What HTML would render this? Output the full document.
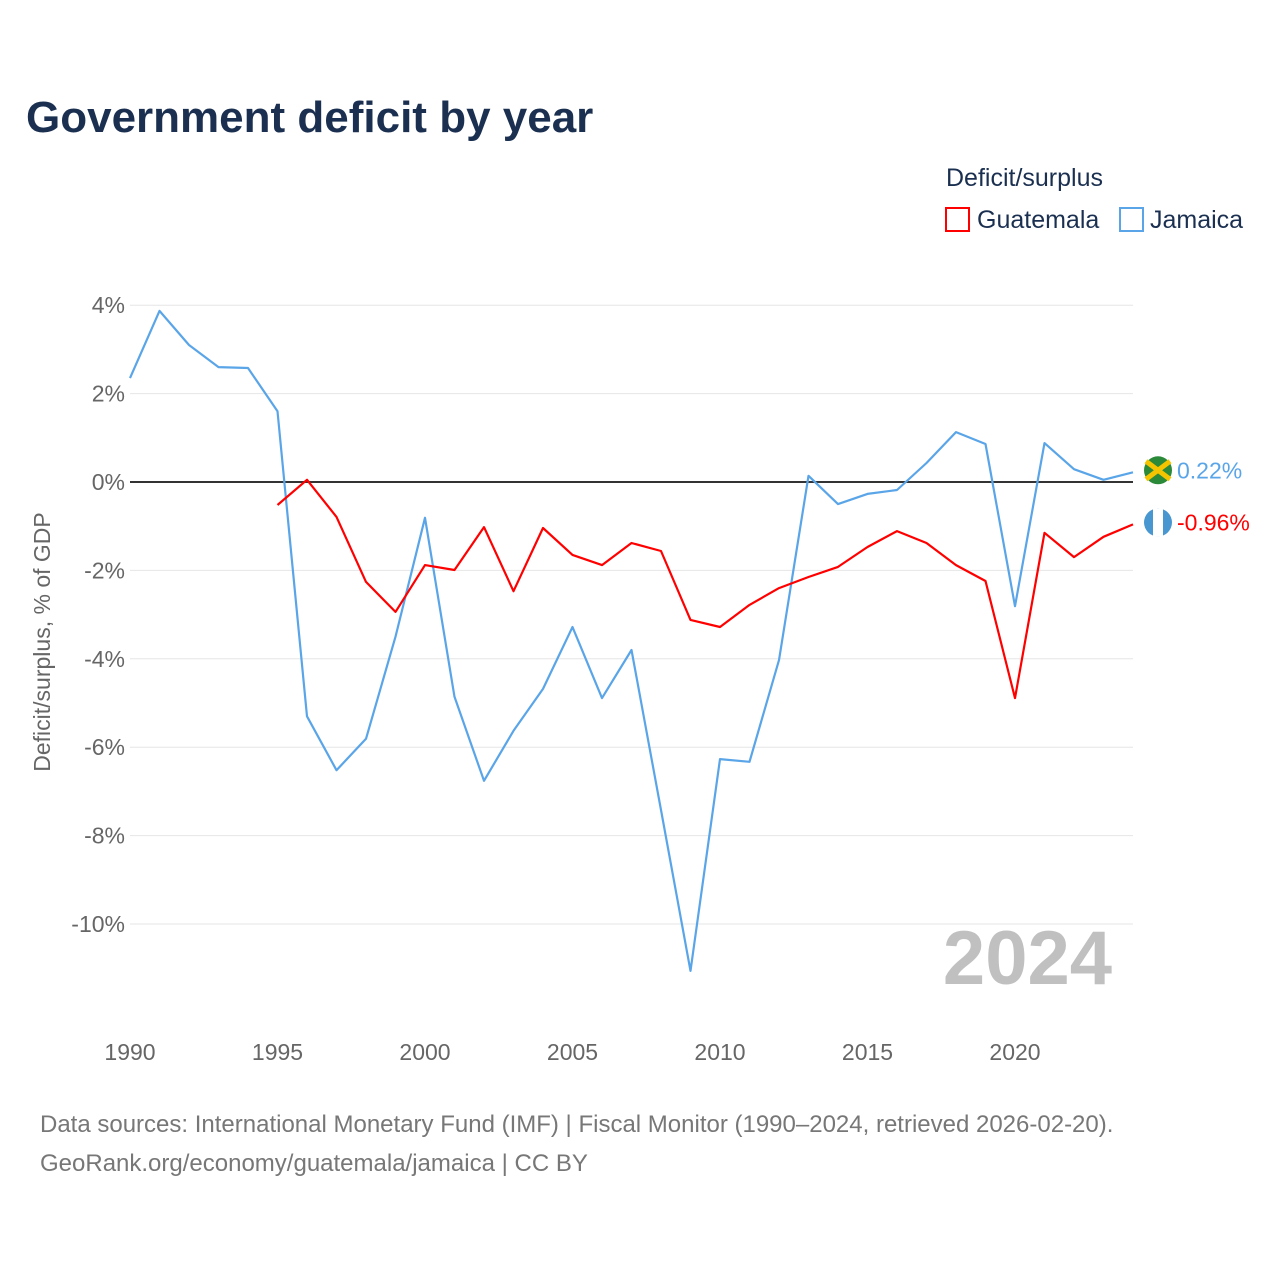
<!DOCTYPE html>
<html><head><meta charset="utf-8"><style>
body{margin:0;background:#fff;font-family:"Liberation Sans",sans-serif;}
</style></head><body>
<svg width="1280" height="1280" xmlns="http://www.w3.org/2000/svg" font-family="Liberation Sans, sans-serif">
<text x="26" y="132" font-size="44" font-weight="bold" fill="#1b3050">Government deficit by year</text>
<text x="946" y="186" font-size="25" fill="#1b3050">Deficit/surplus</text>
<g><rect x="946" y="208" width="23" height="23" fill="none" stroke="#ff0000" stroke-width="2"/><text x="977" y="228" font-size="25" fill="#1b3050">Guatemala</text></g>
<g><rect x="1120" y="208" width="23" height="23" fill="none" stroke="#5aa5e8" stroke-width="2"/><text x="1150" y="228" font-size="25" fill="#1b3050">Jamaica</text></g>
<g id="grid"></g>
<g id="yticks"></g>
<g id="xticks"></g>
<text transform="translate(50,642) rotate(-90)" text-anchor="middle" font-size="23" fill="#666">Deficit/surplus, % of GDP</text>
<text x="1112" y="984" text-anchor="end" font-size="76" font-weight="bold" fill="#c0c0c0">2024</text>
<g id="series"></g>
<text x="40" y="1132" font-size="24" fill="#777">Data sources: International Monetary Fund (IMF) | Fiscal Monitor (1990–2024, retrieved 2026-02-20).</text>
<text x="40" y="1171" font-size="24" fill="#777">GeoRank.org/economy/guatemala/jamaica | CC BY</text>
</svg>
<script>
const years=[];for(let y=1990;y<=2024;y++)years.push(y);
const jamaica=[2.35,3.87,3.1,2.6,2.58,1.6,-5.3,-6.52,-5.81,-3.5,-0.81,-4.86,-6.76,-5.63,-4.68,-3.28,-4.89,-3.8,-7.42,-11.06,-6.27,-6.33,-4.03,0.14,-0.5,-0.27,-0.18,0.43,1.13,0.86,-2.81,0.88,0.29,0.05,0.22];
const guatemala=[null,null,null,null,null,-0.52,0.05,-0.79,-2.26,-2.94,-1.88,-1.99,-1.02,-2.47,-1.04,-1.65,-1.88,-1.38,-1.56,-3.12,-3.28,-2.78,-2.4,-2.15,-1.92,-1.47,-1.11,-1.38,-1.88,-2.24,-4.89,-1.15,-1.7,-1.24,-0.96];
const yTicks=[4,2,0,-2,-4,-6,-8,-10];
const xTicks=[1990,1995,2000,2005,2010,2015,2020];
const NS="http://www.w3.org/2000/svg";
const X=y=>130+(y-1990)*(1133-130)/34;
const Y=v=>482-v*44.2;
function mk(t,a,p){const e=document.createElementNS(NS,t);for(const k in a)e.setAttribute(k,a[k]);p.appendChild(e);return e;}
const grid=document.getElementById('grid'),yt=document.getElementById('yticks'),xt=document.getElementById('xticks'),ser=document.getElementById('series');
yTicks.forEach(v=>{
 const l=mk('line',{x1:130,x2:1133,y1:Y(v),y2:Y(v),stroke:v===0?'#333':'#e6e6e6','stroke-width':v===0?2:1},grid);
 
 
 const t=mk('text',{x:125,y:Y(v)+8,'text-anchor':'end','font-size':23,fill:'#666'},yt);t.textContent=v+'%';
 
 
});
xTicks.forEach(v=>{
 const t=mk('text',{x:X(v),y:1060,'text-anchor':'middle','font-size':23,fill:'#666'},xt);t.textContent=v;
 
 
});
function line(data,color,name){
 let d='';data.forEach((v,i)=>{if(v===null)return;d+=(d?'L':'M')+X(years[i]).toFixed(1)+','+Y(v).toFixed(1);});
 const p=mk('path',{d:d,fill:'none',stroke:color,'stroke-width':2.2,'stroke-linejoin':'round'},ser);
 
 
}
line(jamaica,'#5aa5e8','jamaica-line');
line(guatemala,'#ff0000','guatemala-line');
function endLabel(v,color,name,flag){
 const y=Y(v),yy=name==='jamaica'?y-2:y-2;
 const c=mk('circle',{cx:1158,cy:yy,r:14,fill:flag},ser);
 
 
 if(name==='guatemala'){mk('rect',{x:1153,y:yy-14,width:10,height:28,fill:'#fff'},ser);}
 else{mk('path',{d:`M1146,${yy-9}L1170,${yy+9}M1146,${yy+9}L1170,${yy-9}`,stroke:'#f5c400','stroke-width':5},ser);}
 const t=mk('text',{x:1177,y:yy+8,'font-size':23,fill:color},ser);t.textContent=v.toFixed(2)+'%';
 
 
}
endLabel(jamaica[jamaica.length-1],'#5aa5e8','jamaica','#2a8a3a');
endLabel(guatemala[guatemala.length-1],'#ff0000','guatemala','#4997d0');
</script>
</body></html>
